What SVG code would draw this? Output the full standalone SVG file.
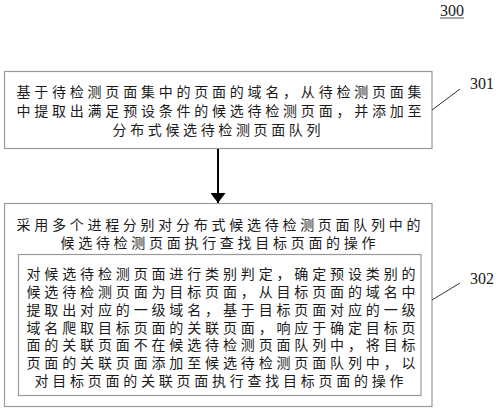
<svg xmlns="http://www.w3.org/2000/svg" width="500" height="412" viewBox="0 0 500 412">
<defs>
<style>
.box{fill:#fff;stroke:#9a9a9a;stroke-width:1.2}
.t{font-family:"Liberation Serif","Noto Sans CJK SC",serif;font-size:14px;fill:#1a1a1a}
.num{font-family:"Liberation Serif",serif;font-size:16px;fill:#1a1a1a}
.lead{stroke:#333;stroke-width:1;fill:none}
</style>
<marker id="ah" viewBox="0 0 10 15" refX="10" refY="7.5" markerWidth="10" markerHeight="15" markerUnits="userSpaceOnUse" orient="auto">
<path d="M0,0 L10,7.5 L0,15 Z" fill="#000"/>
</marker>
</defs>
<rect width="500" height="412" fill="#fff"/>
<g id="label300">
<text class="num" x="440" y="15.5">300</text>
<line x1="440" y1="18" x2="464" y2="18" stroke="#555" stroke-width="1"/>
</g>
<g id="node301">
<rect class="box" x="4.5" y="71.5" width="427.5" height="77"/>
<text class="t" x="16.5" y="97" textLength="405" lengthAdjust="spacing">基于待检测页面集中的页面的域名，从待检测页面集</text>
<text class="t" x="16.5" y="116" textLength="405" lengthAdjust="spacing">中提取出满足预设条件的候选待检测页面，并添加至</text>
<text class="t" x="112.5" y="135" textLength="208" lengthAdjust="spacing">分布式候选待检测页面队列</text>
</g>
<g id="node302">
<rect class="box" x="4.5" y="203.5" width="427.5" height="203"/>
<text class="t" x="16.5" y="229.5" textLength="404" lengthAdjust="spacing">采用多个进程分别对分布式候选待检测页面队列中的</text>
<text class="t" x="60.5" y="247.5" textLength="315" lengthAdjust="spacing">候选待检测页面执行查找目标页面的操作</text>
<rect class="box" x="18.5" y="254.5" width="402.5" height="141"/>
<text class="t" x="26.5" y="279" textLength="389" lengthAdjust="spacing">对候选待检测页面进行类别判定，确定预设类别的</text>
<text class="t" x="26.5" y="297" textLength="389" lengthAdjust="spacing">候选待检测页面为目标页面，从目标页面的域名中</text>
<text class="t" x="26.5" y="315" textLength="389" lengthAdjust="spacing">提取出对应的一级域名，基于目标页面对应的一级</text>
<text class="t" x="26.5" y="332.5" textLength="389" lengthAdjust="spacing">域名爬取目标页面的关联页面，响应于确定目标页</text>
<text class="t" x="26.5" y="350" textLength="389" lengthAdjust="spacing">面的关联页面不在候选待检测页面队列中，将目标</text>
<text class="t" x="26.5" y="368" textLength="389" lengthAdjust="spacing">页面的关联页面添加至候选待检测页面队列中，以</text>
<text class="t" x="34.5" y="386" textLength="369" lengthAdjust="spacing">对目标页面的关联页面执行查找目标页面的操作</text>
</g>
<g id="labels">
<text class="num" x="470" y="88.5">301</text>
<text class="num" x="470" y="284">302</text>
</g>
<g id="connectors">
<line x1="218" y1="149" x2="218" y2="203" stroke="#000" stroke-width="2" marker-end="url(#ah)"/>
<line class="lead" x1="432" y1="110" x2="460" y2="89"/>
<line class="lead" x1="432" y1="300" x2="460" y2="283"/>
</g>
</svg>
